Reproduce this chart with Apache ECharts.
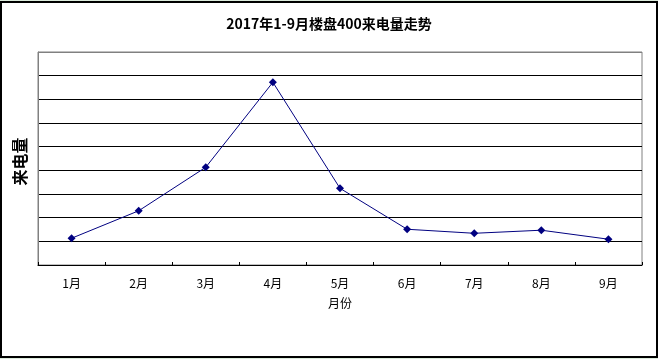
<!DOCTYPE html>
<html>
<head>
<meta charset="utf-8">
<script src="https://cdn.jsdelivr.net/npm/echarts@6/dist/echarts.min.js"></script>
<style>
html,body{margin:0;padding:0;background:#dcebdc;}
#frame{position:absolute;left:0;top:1px;width:654px;height:353px;border:2px solid #000;background:#fff;}
#chart{position:absolute;left:0;top:0;width:658px;height:359px;}
</style>
</head>
<body>
<div id="frame"></div>
<div id="chart"></div>
<script>
const titleText = '2017年1-9月楼盘400来电量走势';
const categories = ['1月','2月','3月','4月','5月','6月','7月','8月','9月'];
const values = [113, 229, 413, 772, 324, 151, 134, 147, 109];
const yAxisName = '来电量';
const xAxisName = '月份';

const chart = echarts.init(document.getElementById('chart'), null, {renderer:'canvas'});
const splitColors = ['#000','#000','#000','#000','#000','#000','#000','#000','#000','#808080'];
chart.setOption({
  backgroundColor: 'transparent',
  animation: false,
  title: {
    text: titleText,
    left: 'center',
    top: 12,
    textStyle: {fontFamily: '"Noto Sans CJK SC", sans-serif', fontSize: 14, fontWeight: 'bold', color: '#000'}
  },
  grid: {left: 38, top: 52, right: 16, bottom: 94, show: true, borderColor: '#808080', borderWidth: 1, backgroundColor: 'transparent'},
  xAxis: {
    type: 'category',
    data: categories,
    boundaryGap: true,
    name: xAxisName,
    nameLocation: 'middle',
    nameGap: 32,
    nameTextStyle: {fontFamily: '"Noto Sans CJK SC", sans-serif', fontSize: 12, color: '#000'},
    axisLine: {lineStyle: {color: '#000', width: 1}},
    axisTick: {show: true, inside: true, length: 3, lineStyle: {color: '#000'}},
    axisLabel: {color: '#000', fontSize: 12, margin: 12, fontFamily: '"Noto Sans CJK SC", sans-serif'},
    splitLine: {show: false}
  },
  yAxis: {
    type: 'value',
    min: 0, max: 900, interval: 100,
    name: yAxisName,
    nameLocation: 'middle',
    nameRotate: 90,
    nameGap: 10,
    nameTextStyle: {fontFamily: '"Noto Sans CJK SC", sans-serif', fontSize: 16, fontWeight: 'bold', color: '#000', padding: [0, 0, 0, -6]},
    axisLine: {show: true, lineStyle: {color: '#808080'}},
    axisTick: {show: false},
    axisLabel: {show: false},
    splitLine: {show: true, lineStyle: {color: splitColors, width: 1}}
  },
  series: [{
    type: 'line',
    data: values,
    symbol: 'diamond',
    symbolSize: 8,
    lineStyle: {color: '#000080', width: 1},
    itemStyle: {color: '#000080'}
  }]
});
</script>
</body>
</html>
